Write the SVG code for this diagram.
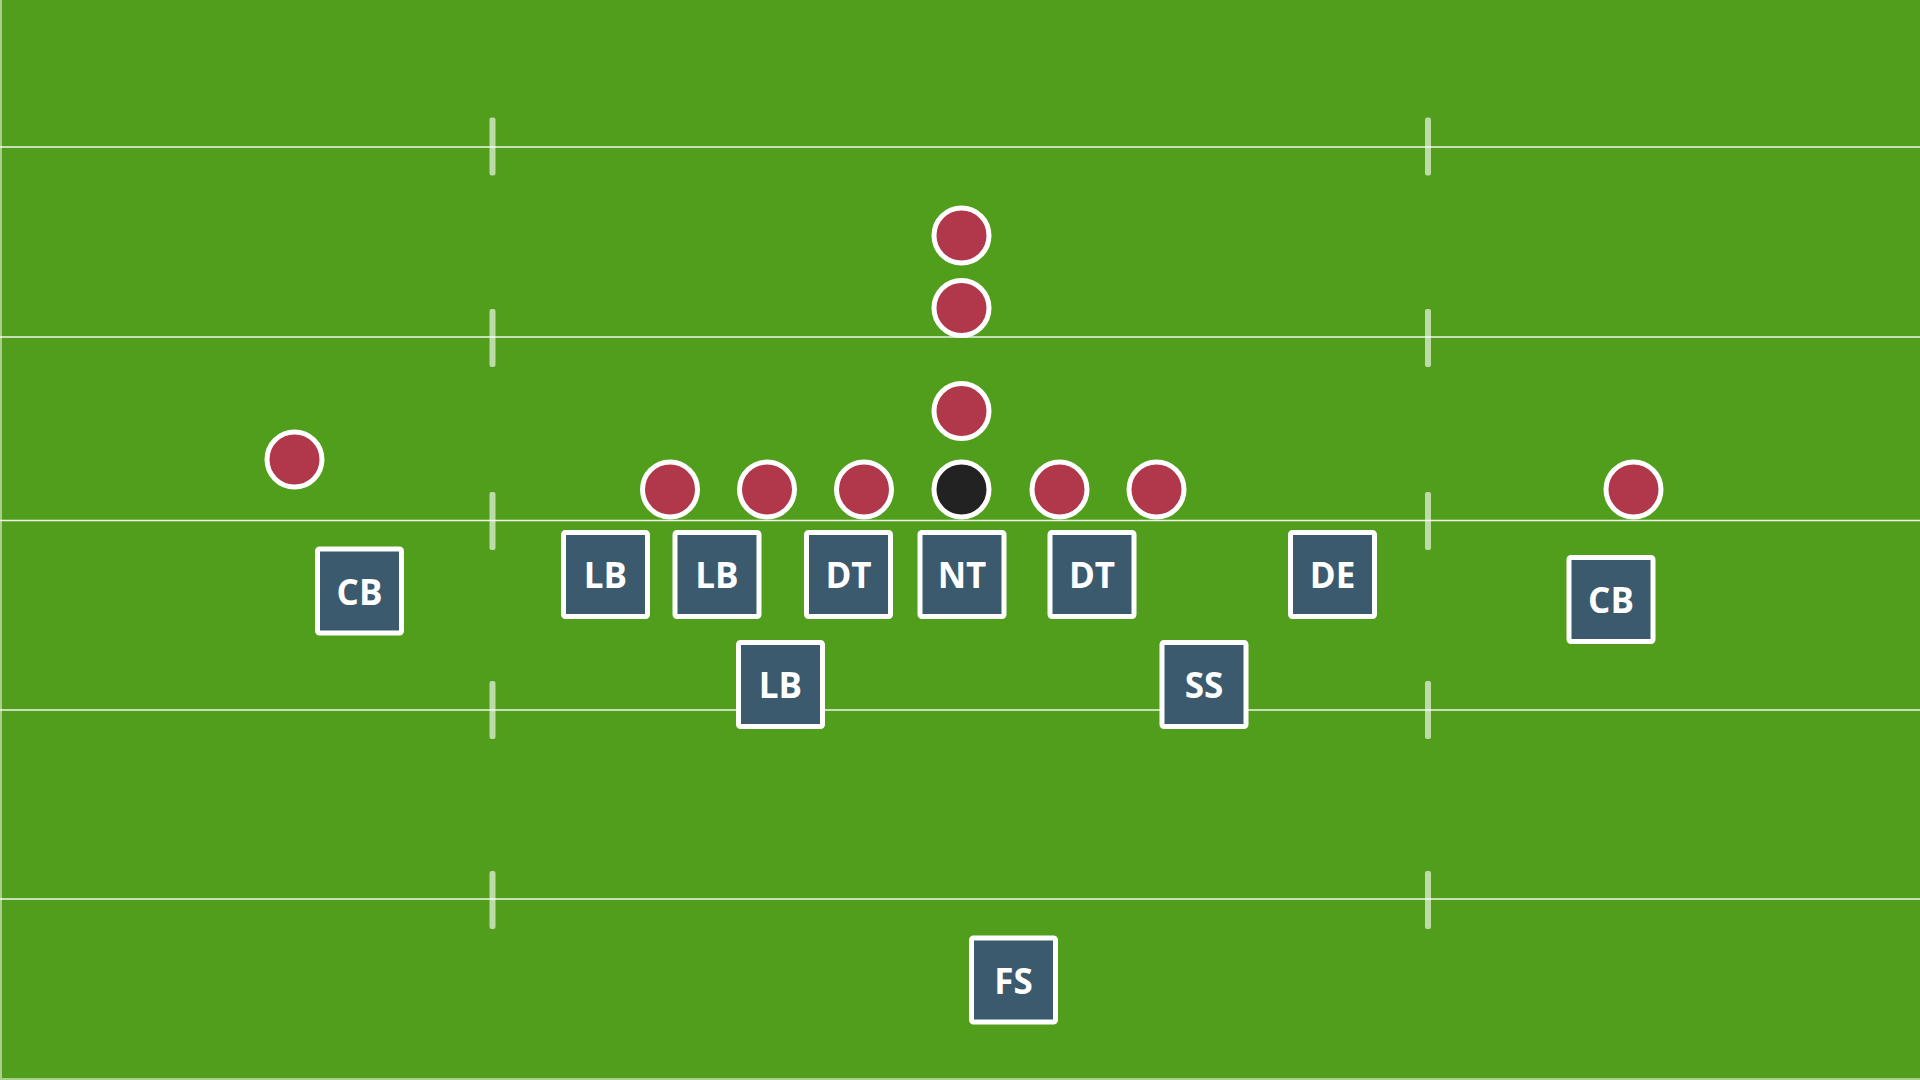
<svg xmlns="http://www.w3.org/2000/svg" width="1920" height="1080" viewBox="0 0 1920 1080">
  <defs>
    <style>
      .yard { stroke: #ffffff; stroke-width: 1.6; stroke-opacity: 0.9; }
      .hash { fill: #ffffff; fill-opacity: 0.62; }
      .edge { stroke: #a9cf8e; stroke-width: 2; }
      .off { fill: #b0384a; stroke: #ffffff; stroke-width: 5; }
      .ctr { fill: #222222; stroke: #ffffff; stroke-width: 5; }
      .def rect { fill: #3b5a6e; stroke: #ffffff; stroke-width: 5; }
      .def text { fill: #ffffff; font-family: "Open Sans", "Liberation Sans", sans-serif; font-weight: 700; font-size: 35px; text-anchor: middle; }
    </style>
  </defs>

  <g id="field">
    <rect x="0" y="0" width="1920" height="1080" fill="#519e1d"/>
    <line class="edge" x1="1" y1="0" x2="1" y2="1080"/>
    <line class="edge" x1="0" y1="1079" x2="1920" y2="1079"/>
    <line class="yard" x1="0" y1="147" x2="1920" y2="147"/>
    <line class="yard" x1="0" y1="337" x2="1920" y2="337"/>
    <line class="yard" x1="0" y1="520.5" x2="1920" y2="520.5"/>
    <line class="yard" x1="0" y1="710" x2="1920" y2="710"/>
    <line class="yard" x1="0" y1="899" x2="1920" y2="899"/>
    <rect class="hash" x="489.5" y="117.5" width="6" height="58" rx="2"/>
    <rect class="hash" x="489.5" y="309" width="6" height="58" rx="2"/>
    <rect class="hash" x="489.5" y="492" width="6" height="58" rx="2"/>
    <rect class="hash" x="489.5" y="681" width="6" height="58" rx="2"/>
    <rect class="hash" x="489.5" y="871" width="6" height="58" rx="2"/>
    <rect class="hash" x="1425" y="117.5" width="6" height="58" rx="2"/>
    <rect class="hash" x="1425" y="309" width="6" height="58" rx="2"/>
    <rect class="hash" x="1425" y="492" width="6" height="58" rx="2"/>
    <rect class="hash" x="1425" y="681" width="6" height="58" rx="2"/>
    <rect class="hash" x="1425" y="871" width="6" height="58" rx="2"/>
  </g>

  <g id="connectors"></g>

  <g id="offense">
    <g id="o-wr-left"><circle class="off" cx="294.5" cy="459.5" r="27.5"/></g>
    <g id="o-fb-deep"><circle class="off" cx="961.5" cy="235.5" r="27.5"/></g>
    <g id="o-rb"><circle class="off" cx="961.5" cy="308" r="27.5"/></g>
    <g id="o-qb"><circle class="off" cx="961.5" cy="411" r="27.5"/></g>
    <g id="o-te"><circle class="off" cx="670" cy="489.5" r="27.5"/></g>
    <g id="o-lt"><circle class="off" cx="767" cy="489.5" r="27.5"/></g>
    <g id="o-lg"><circle class="off" cx="864" cy="489.5" r="27.5"/></g>
    <g id="o-c"><circle class="ctr" cx="961.5" cy="489.5" r="27.5"/></g>
    <g id="o-rg"><circle class="off" cx="1059.5" cy="489.5" r="27.5"/></g>
    <g id="o-rt"><circle class="off" cx="1156.5" cy="489.5" r="27.5"/></g>
    <g id="o-wr-right"><circle class="off" cx="1633.5" cy="489.5" r="27.5"/></g>
  </g>

  <g id="defense">
    <g id="d-cb-left" class="def"><rect x="317.5" y="549" width="84" height="84" rx="2"/><text x="359.5" y="604.5">CB</text></g>
    <g id="d-lb-1" class="def"><rect x="563.5" y="532.5" width="84" height="84" rx="2"/><text x="605.5" y="588">LB</text></g>
    <g id="d-lb-2" class="def"><rect x="675" y="532.5" width="84" height="84" rx="2"/><text x="717" y="588">LB</text></g>
    <g id="d-dt-left" class="def"><rect x="806.5" y="532.5" width="84" height="84" rx="2"/><text x="848.5" y="588">DT</text></g>
    <g id="d-nt" class="def"><rect x="920" y="532.5" width="84" height="84" rx="2"/><text x="962" y="588">NT</text></g>
    <g id="d-dt-right" class="def"><rect x="1050" y="532.5" width="84" height="84" rx="2"/><text x="1092" y="588">DT</text></g>
    <g id="d-de" class="def"><rect x="1290.5" y="532.5" width="84" height="84" rx="2"/><text x="1332.5" y="588">DE</text></g>
    <g id="d-cb-right" class="def"><rect x="1569" y="557.5" width="84" height="84" rx="2"/><text x="1611" y="613">CB</text></g>
    <g id="d-lb-3" class="def"><rect x="738.5" y="642.5" width="84" height="84" rx="2"/><text x="780.5" y="698">LB</text></g>
    <g id="d-ss" class="def"><rect x="1162" y="642.5" width="84" height="84" rx="2"/><text x="1204" y="698">SS</text></g>
    <g id="d-fs" class="def"><rect x="971.5" y="938" width="84" height="84" rx="2"/><text x="1013.5" y="993.5">FS</text></g>
  </g>
</svg>
